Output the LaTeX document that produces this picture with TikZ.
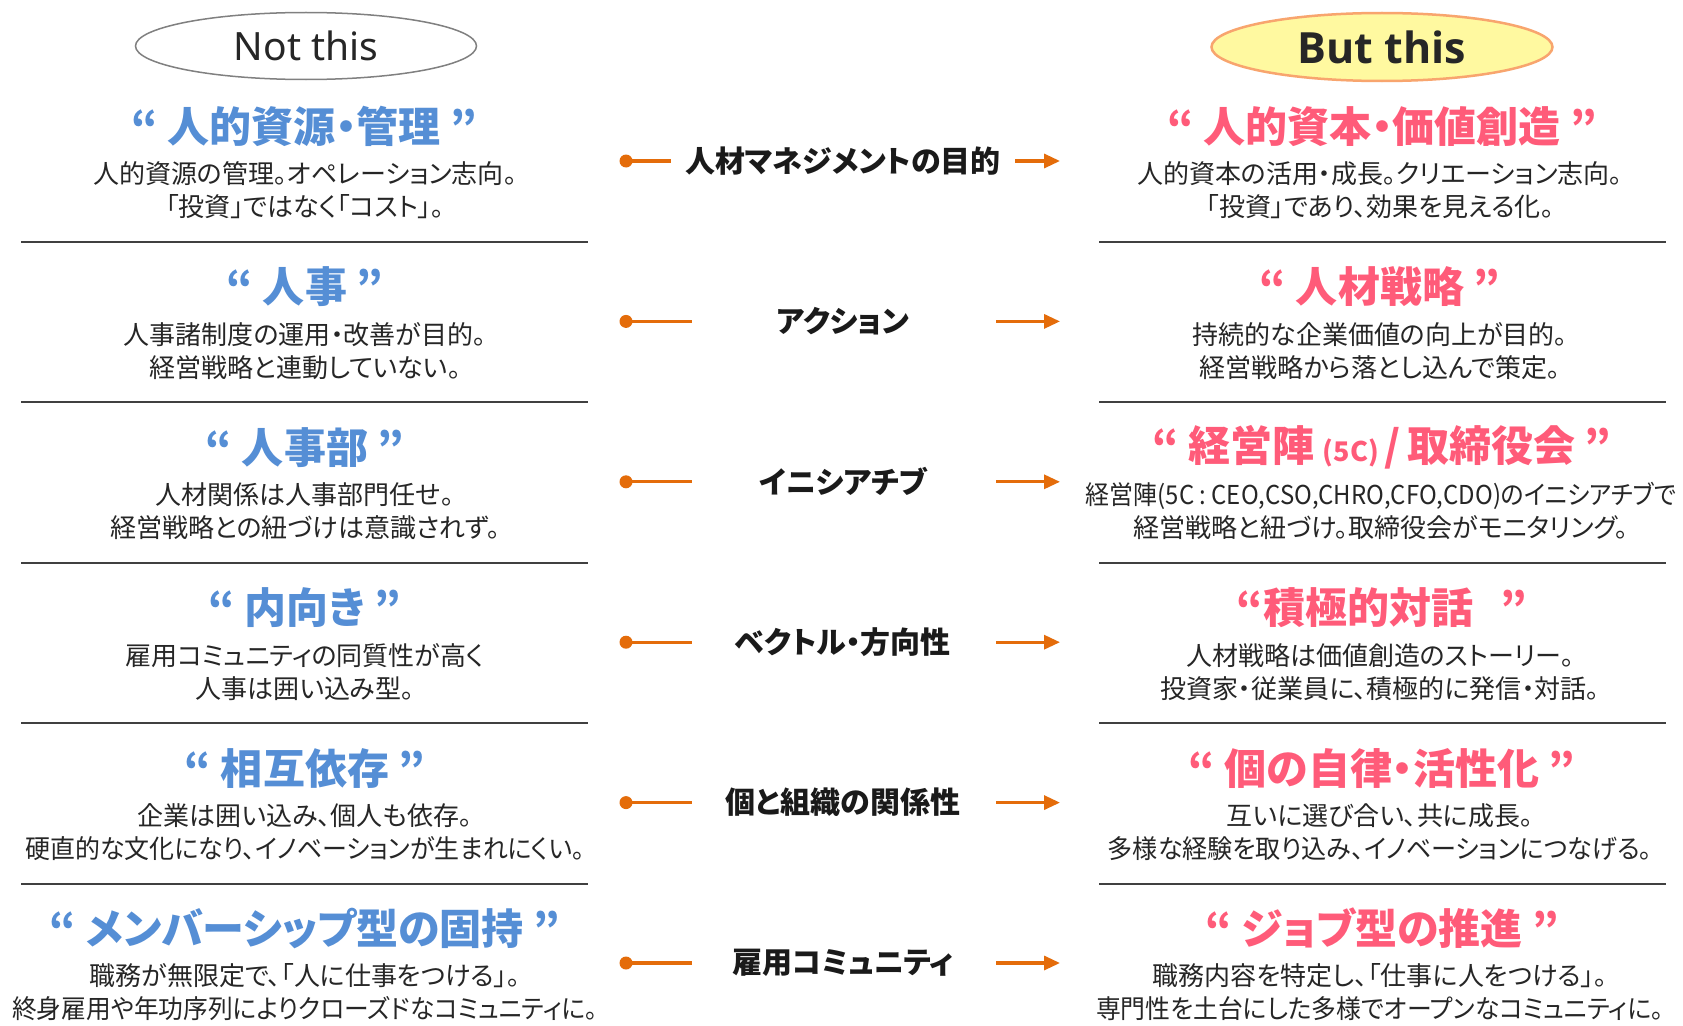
\documentclass[tikz,border=0pt]{standalone}
\usepackage{graphicx}
\usepackage{fontspec}
\setmainfont{Noto Sans CJK JP}[RawFeature=+palt]
\newfontfamily\latinsans{Noto Sans}
\newfontfamily\latinbold{Open Sans}
\usetikzlibrary{arrows.meta,shapes.geometric}
\definecolor{ttlblue}{HTML}{558ED5}
\definecolor{ttlpink}{HTML}{FF5B79}
\definecolor{bodytxt}{HTML}{262626}
\definecolor{midtxt}{HTML}{1A1A1A}
\definecolor{sepgray}{HTML}{404040}
\definecolor{connor}{HTML}{E46C0A}
\definecolor{ellgray}{HTML}{808080}
\definecolor{ellorange}{HTML}{F8A56E}
\definecolor{ellyellow}{HTML}{FFF9A0}
\newcommand{\hsq}[2]{\scalebox{#1}[1]{#2}}
\begin{document}
\begin{tikzpicture}[x=1pt,y=-1pt,
  ttl/.style={font=\fontsize{42}{48}\selectfont\bfseries, inner sep=0pt},
  ttlL/.style={ttl,text=ttlblue},
  ttlR/.style={ttl,text=ttlpink},
  body/.style={font=\fontsize{26}{33}\selectfont, align=center, text=bodytxt, inner sep=0pt},
  mid/.style={font=\fontsize{30}{34}\selectfont\bfseries, text=midtxt, inner sep=0pt},
  sepline/.style={draw=sepgray, line width=2pt},
  conn/.style={draw=connor, line width=3.2pt},
  tipline/.style={conn,-{Triangle[length=16pt,width=14pt]}},
  dotmark/.style={circle, fill=connor, inner sep=0pt, minimum size=13pt}
]
\fill[white] (0,0) rectangle (1683,1025);
\useasboundingbox (0,0) rectangle (1683,1025);

% headers
\node[ellipse, draw=ellgray, line width=1.5pt, fill=white, minimum width=341pt, minimum height=67pt, inner sep=0pt,
  font=\latinsans\fontsize{39}{44}\selectfont, text=bodytxt] (notthis) at (306,46) {Not this};
\node[ellipse, draw=ellorange, line width=2.5pt, fill=ellyellow, minimum width=341pt, minimum height=68pt, inner sep=0pt,
  font=\latinbold\bfseries\fontsize{43}{46}\selectfont, text=bodytxt] (butthis) at (1382,47) {But this};

% separators
\foreach \yy in {241.5,402,562.5,723,883.5}{
  \draw[sepline] (21,\yy) -- (588,\yy);
  \draw[sepline] (1099,\yy) -- (1666,\yy);
}

% Row 1
\node[ttlL] (lt1) at (304,126.5) {“ 人的資源・管理 ”};
\node[body] (lb1) at (305,190.5) {人的資源の管理。オペレーション志向。\\「投資」ではなく「コスト」。};
\node[ttlR] (rt1) at (1382,126.5) {“ 人的資本・価値創造 ”};
\node[body] (rb1) at (1380,190.5) {人的資本の活用・成長。クリエーション志向。\\「投資」であり、効果を見える化。};
\node[mid] (m1) at (843,161) {人材マネジメントの目的};
\node[dotmark] (d1) at (626,161) {};
\coordinate (e1) at (671,161);
\coordinate (a1) at (1015,161);
\coordinate (b1) at (1060,161);
\draw[conn] (d1.center) -- (e1);
\draw[tipline] (a1) -- (b1);

% Row 2
\node[ttlL] (lt2) at (305,286.9) {“ 人事 ”};
\node[body] (lb2) at (305,350.9) {人事諸制度の運用・改善が目的。\\経営戦略と連動していない。};
\node[ttlR] (rt2) at (1380,286.9) {“ 人材戦略 ”};
\node[body] (rb2) at (1380,350.9) {持続的な企業価値の向上が目的。\\経営戦略から落とし込んで策定。};
\node[mid] (m2) at (843,321.4) {アクション};
\node[dotmark] (d2) at (626,321.4) {};
\coordinate (e2) at (692,321.4);
\coordinate (a2) at (996,321.4);
\coordinate (b2) at (1060,321.4);
\draw[conn] (d2.center) -- (e2);
\draw[tipline] (a2) -- (b2);

% Row 3
\node[ttlL] (lt3) at (305,447.3) {“ 人事部 ”};
\node[body] (lb3) at (305,511.3) {人材関係は人事部門任せ。\\経営戦略との紐づけは意識されず。};
\node[ttlR] (rt3) at (1382,447.3) {“ 経営陣\hspace{8pt}{\fontsize{27}{30}\selectfont(5C)}\hspace{6pt}/\hspace{6pt}取締役会 ”};
\node[body] (rb3) at (1381,511.3) {\hsq{0.92}{経営陣(5C : CEO,CSO,CHRO,CFO,CDO)のイニシアチブで}\\経営戦略と紐づけ。取締役会がモニタリング。};
\node[mid] (m3) at (843,481.8) {イニシアチブ};
\node[dotmark] (d3) at (626,481.8) {};
\coordinate (e3) at (692,481.8);
\coordinate (a3) at (996,481.8);
\coordinate (b3) at (1060,481.8);
\draw[conn] (d3.center) -- (e3);
\draw[tipline] (a3) -- (b3);

% Row 4
\node[ttlL] (lt4) at (305,607.7) {“ 内向き ”};
\node[body] (lb4) at (305,671.7) {雇用コミュニティの同質性が高く\\人事は囲い込み型。};
\node[ttlR] (rt4) at (1382,607.7) {“積極的対話\hspace{28pt}”};
\node[body] (rb4) at (1380,671.7) {人材戦略は価値創造のストーリー。\\投資家・従業員に、積極的に発信・対話。};
\node[mid] (m4) at (843,642.2) {ベクトル・方向性};
\node[dotmark] (d4) at (626,642.2) {};
\coordinate (e4) at (692,642.2);
\coordinate (a4) at (996,642.2);
\coordinate (b4) at (1060,642.2);
\draw[conn] (d4.center) -- (e4);
\draw[tipline] (a4) -- (b4);

% Row 5
\node[ttlL] (lt5) at (305,768.1) {“ 相互依存 ”};
\node[body] (lb5) at (305,832.1) {企業は囲い込み、個人も依存。\\\hsq{0.96}{硬直的な文化になり、イノベーションが生まれにくい。}};
\node[ttlR] (rt5) at (1382,768.1) {“ 個の自律・活性化 ”};
\node[body] (rb5) at (1380,832.1) {互いに選び合い、共に成長。\\\hsq{0.965}{多様な経験を取り込み、イノベーションにつなげる。}};
\node[mid] (m5) at (843,802.6) {個と組織の関係性};
\node[dotmark] (d5) at (626,802.6) {};
\coordinate (e5) at (692,802.6);
\coordinate (a5) at (996,802.6);
\coordinate (b5) at (1060,802.6);
\draw[conn] (d5.center) -- (e5);
\draw[tipline] (a5) -- (b5);

% Row 6
\node[ttlL] (lt6) at (305,928.5) {“ メンバーシップ型の固持 ”};
\node[body] (lb6) at (305,992.5) {職務が無限定で、「人に仕事をつける」。\\\hsq{0.95}{終身雇用や年功序列によりクローズドなコミュニティに。}};
\node[ttlR] (rt6) at (1382,928.5) {“ ジョブ型の推進 ”};
\node[body] (rb6) at (1380,992.5) {職務内容を特定し、「仕事に人をつける」。\\\hsq{0.955}{専門性を土台にした多様でオープンなコミュニティに。}};
\node[mid] (m6) at (843,963) {雇用コミュニティ};
\node[dotmark] (d6) at (626,963) {};
\coordinate (e6) at (692,963);
\coordinate (a6) at (996,963);
\coordinate (b6) at (1060,963);
\draw[conn] (d6.center) -- (e6);
\draw[tipline] (a6) -- (b6);
\end{tikzpicture}
\end{document}
